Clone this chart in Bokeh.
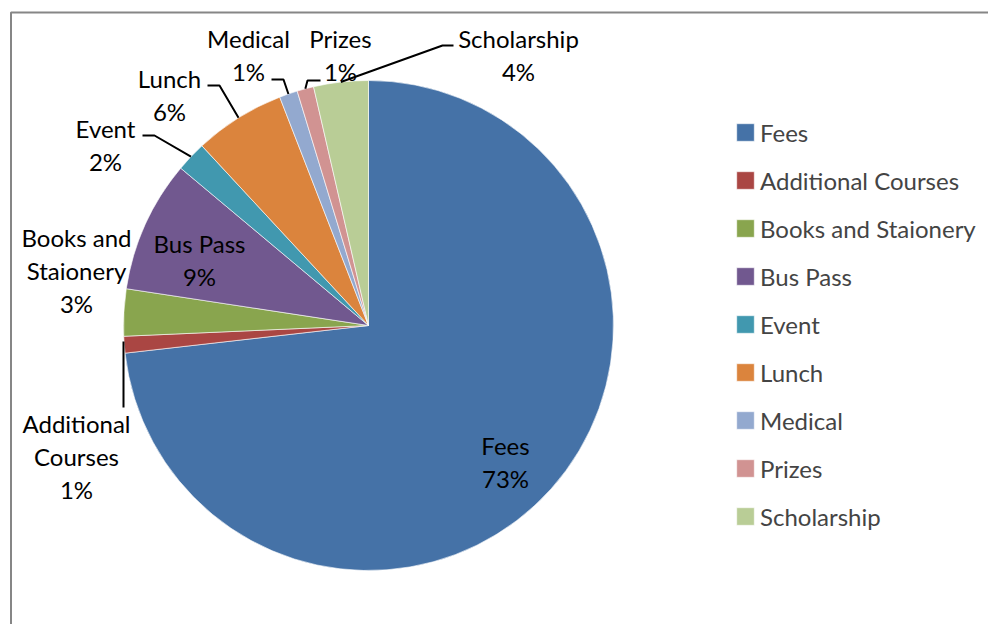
import numpy as np
from bokeh.plotting import figure
from bokeh.models import Range1d, ColumnDataSource, Legend, LegendItem
from bokeh.core.properties import value
from bokeh.embed import file_html
from bokeh.resources import INLINE

# ---- data ----
categories = ["Fees", "Additional Courses", "Books and Staionery", "Bus Pass", "Event",
              "Lunch", "Medical", "Prizes", "Scholarship"]
shares = [73.2, 1.1, 3.1, 8.7, 2.0, 6.0, 1.2, 1.1, 3.6]
colors = ["#4572A7", "#AA4643", "#89A54E", "#71588F", "#4198AF",
          "#DB843D", "#93A9CF", "#D19392", "#B9CD96"]

# ---- layout (pixel space helpers) ----
W, H = 988, 624
def X(px):
    return px
def Y(py):
    return H - py

CX, CY, R = X(368), Y(325), 245
FONT = value("Lato")
FS = "24px"

p = figure(width=W, height=H, output_backend="svg", toolbar_location=None,
           x_range=Range1d(0, W), y_range=Range1d(0, H), min_border=0,
           outline_line_color=None)
p.axis.visible = False
p.grid.visible = False
p.background_fill_color = "white"

vals = np.array(shares, dtype=float)
frac = vals / vals.sum()
cum_end = np.cumsum(frac)
cum_start = cum_end - frac
# clockwise from 12 o'clock -> bokeh angles
start = np.pi / 2 - cum_start * 2 * np.pi
end = np.pi / 2 - cum_end * 2 * np.pi
mid_cw = (cum_start + cum_end) / 2 * 2 * np.pi
pct = [f"{round(f * 100):d}%" for f in frac]

src = ColumnDataSource(dict(cat=categories, start=start, end=end, color=colors))
wr = p.wedge(x=CX, y=CY, radius=R, start_angle="start", end_angle="end",
             direction="clock", fill_color="color", line_color="white",
             line_width=0.6, source=src)

# border (chart area frame)
p.line(x=[X(10.5), X(10.5), X(1100)], y=[Y(700), Y(12), Y(12)],
       line_color="#868686", line_width=2)

# ---- data labels ----
label_lines = {
    "Fees": ["Fees"],
    "Additional Courses": ["Additional", "Courses"],
    "Books and Staionery": ["Books and", "Staionery"],
    "Bus Pass": ["Bus Pass"],
    "Event": ["Event"],
    "Lunch": ["Lunch"],
    "Medical": ["Medical"],
    "Prizes": ["Prizes"],
    "Scholarship": ["Scholarship"],
}
label_anchor = {  # center of first line
    "Fees": (505, 445),
    "Additional Courses": (76, 423),
    "Books and Staionery": (76, 237),
    "Bus Pass": (199, 243),
    "Event": (105, 128),
    "Lunch": (169, 78),
    "Medical": (248, 38),
    "Prizes": (340, 38),
    "Scholarship": (518, 38),
}
LINE_H = 33
tx, ty, tt = [], [], []
for i, c in enumerate(categories):
    ax, ay = label_anchor[c]
    lines = label_lines[c] + [pct[i]]
    for k, s in enumerate(lines):
        tx.append(X(ax)); ty.append(Y(ay + k * LINE_H)); tt.append(s)
p.text(x=tx, y=ty, text=tt, text_font=FONT, text_font_size=FS,
       text_align="center", text_baseline="middle", text_color="black")

# leader lines: from slice edge (mid angle) to elbow to end
leaders = {
    "Additional Courses": [(123, 407)],
    "Event": [(154, 135), (142, 135)],
    "Lunch": [(219, 85), (207, 85)],
    "Medical": [(283, 79), (271, 79)],
    "Prizes": [(307, 80), (320, 80)],
    "Scholarship": [(442, 45), (453, 45)],
}
lx, ly = [], []
for i, c in enumerate(categories):
    if c not in leaders:
        continue
    ex = CX + R * np.sin(mid_cw[i])
    ey = CY + R * np.cos(mid_cw[i])
    xs = [ex] + [X(a) for a, b in leaders[c]]
    ys = [ey] + [Y(b) for a, b in leaders[c]]
    if c == "Additional Courses":
        xs = [xs[1], xs[1]]
        ys = [Y(341), ys[1]]
    lx.append(xs); ly.append(ys)
p.multi_line(xs=lx, ys=ly, line_color="black", line_width=2)

# ---- legend ----
items = [LegendItem(label=c, renderers=[wr], index=i) for i, c in enumerate(categories)]
legend = Legend(items=items, location=(734, 93), orientation="vertical",
                label_text_font="Lato", label_text_font_size=FS,
                glyph_width=22, glyph_height=22, label_standoff=4,
                label_height=30, spacing=18, padding=0, margin=0,
                border_line_color=None, background_fill_alpha=0)
p.add_layout(legend, "center")

open("out.html", "w").write(file_html(p, INLINE))
